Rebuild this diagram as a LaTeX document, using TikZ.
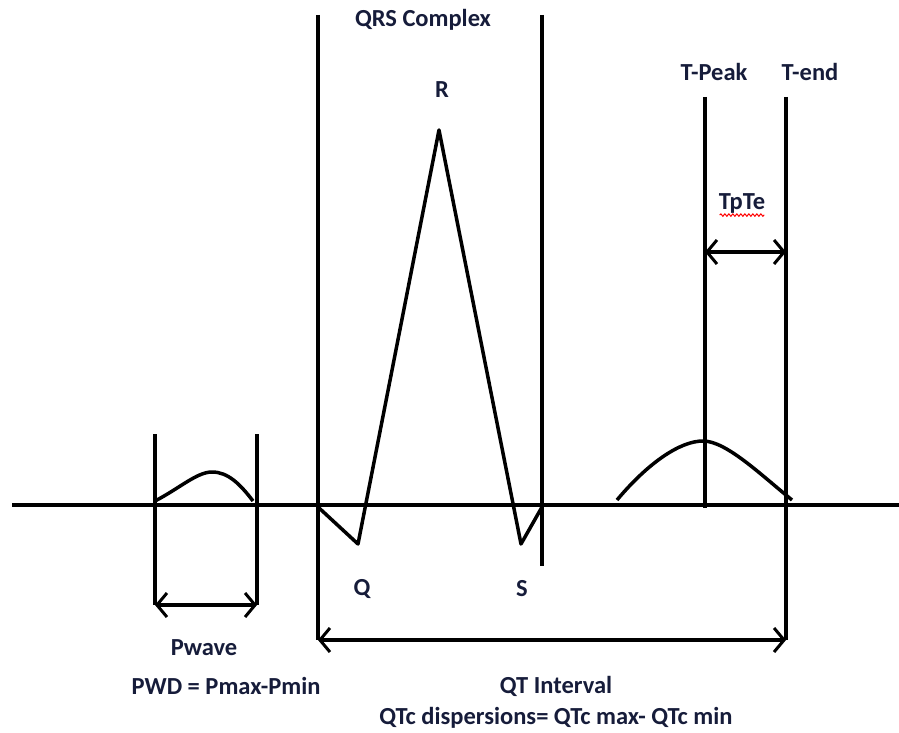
\documentclass[tikz,border=0pt]{standalone}
\usepackage{fontspec}
\setmainfont{Carlito}
\usetikzlibrary{arrows.meta,decorations.pathmorphing}
\definecolor{labelnavy}{RGB}{22,28,58}

\begin{document}
\begin{tikzpicture}[x=1pt,y=-1pt,
    guide/.style={line width=3.5pt},
    wave/.style={line width=3.5pt, line join=round},
    measure/.style={line width=3.5pt,
      {Straight Barb[length=10pt,width=24pt,line width=3pt]}-{Straight Barb[length=10pt,width=24pt,line width=3pt]}},
    lbl/.style={font=\bfseries\fontsize{24.5}{28}\selectfont, text=labelnavy, inner sep=0pt},
    spell/.style={red, line width=1pt, decorate,
      decoration={snake, amplitude=1.2pt, segment length=4pt}}
  ]
  \useasboundingbox (0,0) rectangle (899,733);
  \clip (0,0) rectangle (899,733);

  %% Baseline
  \coordinate (b0) at (12,505);
  \coordinate (b1) at (899,505);
  \draw[guide] (b0) -- (b1);

  %% P wave limits
  \coordinate (pL) at (155,434);
  \coordinate (pLb) at (155,605);
  \coordinate (pR) at (257,434);
  \coordinate (pRb) at (257,605);
  \draw[guide] (pL) -- (pLb);
  \draw[guide] (pR) -- (pRb);
  \draw[measure] (pLb) -- (pRb);

  %% P wave
  \coordinate (p0) at (155,501);
  \coordinate (pTop) at (212,472);
  \coordinate (p1) at (253,501);
  \draw[wave] (p0) .. controls (180,488) and (197,472) .. (pTop)
              .. controls (228,472) and (240,484) .. (p1);

  %% QRS limits
  \coordinate (qrsL) at (318,15);
  \coordinate (qrsLb) at (318,640);
  \coordinate (qrsR) at (542,15);
  \coordinate (qrsRb) at (542,566);
  \draw[guide] (qrsL) -- (qrsLb);
  \draw[guide] (qrsR) -- (qrsRb);

  %% QRS complex
  \coordinate (q0) at (318,507);
  \coordinate (qQ) at (358,544);
  \coordinate (qR) at (439,130);
  \coordinate (qS) at (521,544);
  \coordinate (q1) at (542,507);
  \draw[wave] (q0) -- (qQ) -- (qR) -- (qS) -- (q1);

  %% T wave limits
  \coordinate (tP) at (705,97);
  \coordinate (tPb) at (705,508);
  \coordinate (tE) at (786,97);
  \coordinate (tEb) at (786,640);
  \draw[guide] (tP) -- (tPb);
  \draw[guide] (tE) -- (tEb);

  %% T wave
  \coordinate (t0) at (617,500);
  \coordinate (tTop) at (703,441);
  \coordinate (t1) at (792,500);
  \draw[wave] (t0) .. controls (648,463) and (680,441) .. (tTop)
              .. controls (726,441) and (760,474) .. (t1);

  %% Intervals
  \coordinate (tpteL) at (705,252);
  \coordinate (tpteR) at (786,252);
  \draw[measure] (tpteL) -- (tpteR);
  \draw[measure] (qrsLb) -- (tEb);

  %% Labels
  \node[lbl] (lqrs) at (423,20) {QRS Complex};
  \node[lbl] (lr) at (442,90) {R};
  \node[lbl] (ltpeak) at (714,72) {T-Peak};
  \node[lbl] (ltend) at (810,72) {T-end};
  \node[lbl] (ltpte) at (742,203) {TpTe};
  \draw[spell] ([xshift=1pt,yshift=-2pt]ltpte.south west) -- ([xshift=-1pt,yshift=-2pt]ltpte.south east);
  \node[lbl] (lq) at (362,589) {Q};
  \node[lbl] (ls) at (522,589) {S};
  \node[lbl] (lpwave) at (204,648) {Pwave};
  \node[lbl] (lpwd) at (226,686) {PWD = Pmax-Pmin};
  \node[lbl] (lqt) at (556,686) {QT Interval};
  \node[lbl] (lqtc) at (556,718) {QTc dispersions= QTc max- QTc min};

\end{tikzpicture}
\end{document}
